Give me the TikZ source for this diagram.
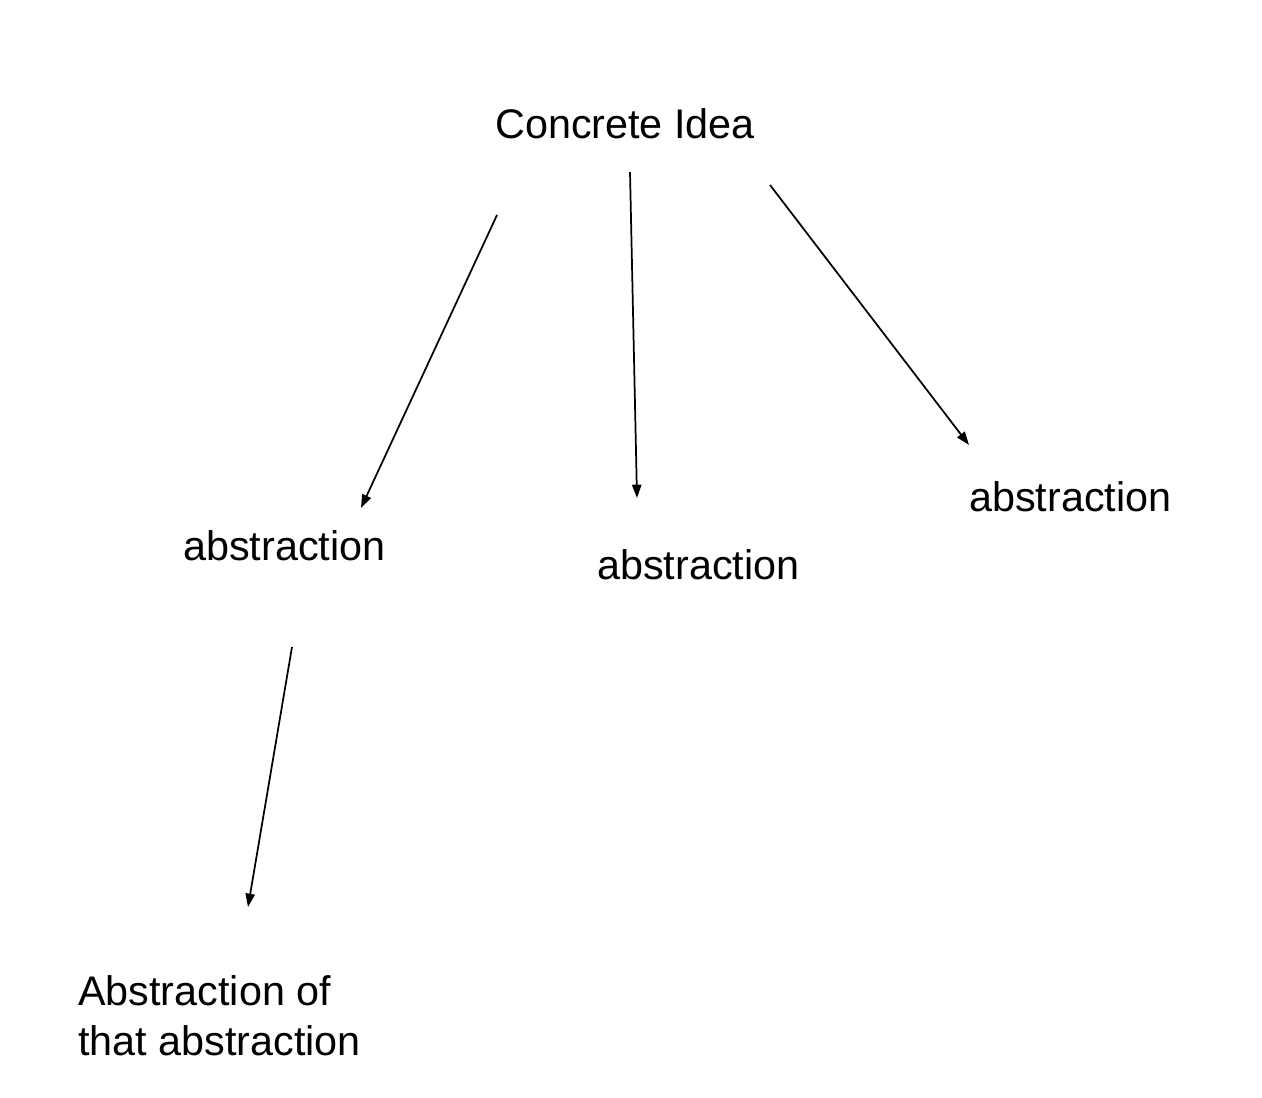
\documentclass[tikz,border=0pt]{standalone}
\usepackage{fontspec}
\setmainfont{Liberation Sans}
\usetikzlibrary{arrows.meta}
\begin{document}
\begin{tikzpicture}[x=0.75pt,y=-0.75pt,
  lbl/.style={anchor=base west,inner sep=0pt,font=\fontsize{31}{37.5}\selectfont},
  conn/.style={line width=1.3pt,-{Triangle[length=10pt,width=7pt]}}]
\useasboundingbox (0,0) rectangle (1262,1098);
\node[lbl] (concrete) at (495,139) {Concrete Idea};
\node[lbl] (abs1) at (183,560) {abstraction};
\node[lbl] (abs2) at (597,579) {abstraction};
\node[lbl] (abs3) at (969,511) {abstraction};
\node[lbl,align=left,anchor=north west] (absabs) at (78,975) {Abstraction of\\that abstraction};
\coordinate (s1) at (497,215); \coordinate (e1) at (361,508);
\coordinate (s2) at (630,172); \coordinate (e2) at (637,498);
\coordinate (s3) at (770,185); \coordinate (e3) at (969,445);
\coordinate (s4) at (292,647); \coordinate (e4) at (248,907);
\draw[conn] (s1) -- (e1);
\draw[conn] (s2) -- (e2);
\draw[conn] (s3) -- (e3);
\draw[conn] (s4) -- (e4);
\end{tikzpicture}
\end{document}
